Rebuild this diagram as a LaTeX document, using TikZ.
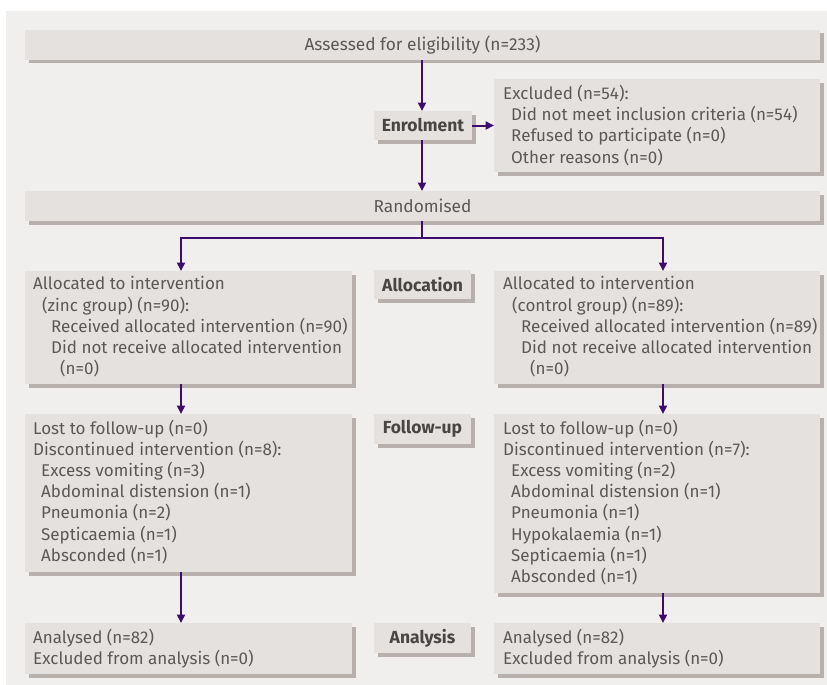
\documentclass[tikz,border=0pt]{standalone}
\usepackage{fontspec}
\setmainfont{Fira Sans}
\usetikzlibrary{arrows.meta,shadows}
\definecolor{panelc}{HTML}{F0EFEE}
\definecolor{boxc}{HTML}{E5E1DE}
\definecolor{shadc}{HTML}{B8B0AC}
\definecolor{txtc}{HTML}{5A5958}
\definecolor{labc}{HTML}{484645}
\definecolor{arrc}{HTML}{3C0D6E}
\tikzset{
  box/.style={draw=none, fill=boxc, anchor=north west, inner sep=0pt, outer sep=0pt,
    general shadow={fill=shadc, shadow xshift=3.5pt, shadow yshift=-3.5pt}},
  txt/.style={anchor=north west, inner sep=0pt, align=left, text=txtc,
    font=\fontsize{17}{21.2}\selectfont},
  ctxt/.style={text=txtc, font=\fontsize{17.3}{21}\selectfont},
  lab/.style={text=labc, font=\fontsize{17.5}{21}\selectfont\bfseries},
  conn/.style={draw=arrc, line width=2pt, -{Triangle[length=8.5pt,width=8pt]}},
  seg/.style={draw=arrc, line width=2pt}
}
\begin{document}
\begin{tikzpicture}[x=1pt,y=-1pt]
\useasboundingbox (0,0) rectangle (827,685);
\fill[panelc] (6,11) rectangle (827,685);
% boxes
\node[box, minimum width=795pt, minimum height=30pt] (assess) at (25,30) {};
\node[box, minimum width=98pt, minimum height=29pt] (enrol) at (374,111) {};
\node[box, minimum width=326pt, minimum height=93pt] (excl) at (494,79) {};
\node[box, minimum width=795pt, minimum height=30pt] (rand) at (25,191) {};
\node[box, minimum width=327pt, minimum height=113pt] (allocL) at (25,271) {};
\node[box, minimum width=97pt, minimum height=29pt] (allocLab) at (374,270) {};
\node[box, minimum width=326pt, minimum height=113pt] (allocR) at (494,271) {};
\node[box, minimum width=327pt, minimum height=158pt] (fuL) at (25,414) {};
\node[box, minimum width=97pt, minimum height=30pt] (fuLab) at (374,414) {};
\node[box, minimum width=326pt, minimum height=179pt] (fuR) at (494,414) {};
\node[box, minimum width=327pt, minimum height=51pt] (anL) at (25,623) {};
\node[box, minimum width=97pt, minimum height=30pt] (anLab) at (374,623) {};
\node[box, minimum width=326pt, minimum height=51pt] (anR) at (494,623) {};
% texts
\node[ctxt] (tassess) at (assess.center) {Assessed for eligibility (n=233)};
\node[ctxt] (trand) at (rand.center) {Randomised};
\node[lab] (tenrol) at (enrol.center) {Enrolment};
\node[lab] (tallocLab) at (allocLab.center) {Allocation};
\node[lab] (tfuLab) at (fuLab.center) {Follow-up};
\node[lab] (tanLab) at (anLab.center) {Analysis};
\node[txt] (texcl) at (503,85) {Excluded (n=54):\\
\hspace*{8pt}Did not meet inclusion criteria (n=54)\\
\hspace*{8pt}Refused to participate (n=0)\\
\hspace*{8pt}Other reasons (n=0)};
\node[txt] (tallocL) at (33,276.5) {Allocated to intervention\\
\hspace*{9pt}(zinc group) (n=90):\\
\hspace*{18pt}Received allocated intervention (n=90)\\
\hspace*{18pt}Did not receive allocated intervention\\
\hspace*{27pt}(n=0)};
\node[txt] (tallocR) at (503,276.5) {Allocated to intervention\\
\hspace*{9pt}(control group) (n=89):\\
\hspace*{18pt}Received allocated intervention (n=89)\\
\hspace*{18pt}Did not receive allocated intervention\\
\hspace*{27pt}(n=0)};
\node[txt] (tfuL) at (33,419.5) {Lost to follow-up (n=0)\\
Discontinued intervention (n=8):\\
\hspace*{8pt}Excess vomiting (n=3)\\
\hspace*{8pt}Abdominal distension (n=1)\\
\hspace*{8pt}Pneumonia (n=2)\\
\hspace*{8pt}Septicaemia (n=1)\\
\hspace*{8pt}Absconded (n=1)};
\node[txt] (tfuR) at (503,419.5) {Lost to follow-up (n=0)\\
Discontinued intervention (n=7):\\
\hspace*{8pt}Excess vomiting (n=2)\\
\hspace*{8pt}Abdominal distension (n=1)\\
\hspace*{8pt}Pneumonia (n=1)\\
\hspace*{8pt}Hypokalaemia (n=1)\\
\hspace*{8pt}Septicaemia (n=1)\\
\hspace*{8pt}Absconded (n=1)};
\node[txt] (tanL) at (33,628.5) {Analysed (n=82)\\
Excluded from analysis (n=0)};
\node[txt] (tanR) at (503,628.5) {Analysed (n=82)\\
Excluded from analysis (n=0)};
% connector columns
\coordinate (xc) at (422,0);
\coordinate (xl) at (181,0);
\coordinate (xr) at (663,0);
\coordinate (split) at (422,238);
% connectors
\draw[conn] (assess.south -| xc) -- (enrol.north -| xc);
\draw[conn] (enrol.east) -- (excl.west |- enrol.east);
\draw[conn] (enrol.south -| xc) -- (rand.north -| xc);
\draw[seg] (rand.south -| xc) -- (split);
\draw[conn] (split) -| (allocL.north -| xl);
\draw[conn] (split) -| (allocR.north -| xr);
\draw[conn] (allocL.south -| xl) -- (fuL.north -| xl);
\draw[conn] (allocR.south -| xr) -- (fuR.north -| xr);
\draw[conn] (fuL.south -| xl) -- (anL.north -| xl);
\draw[conn] (fuR.south -| xr) -- (anR.north -| xr);
\end{tikzpicture}
\end{document}
